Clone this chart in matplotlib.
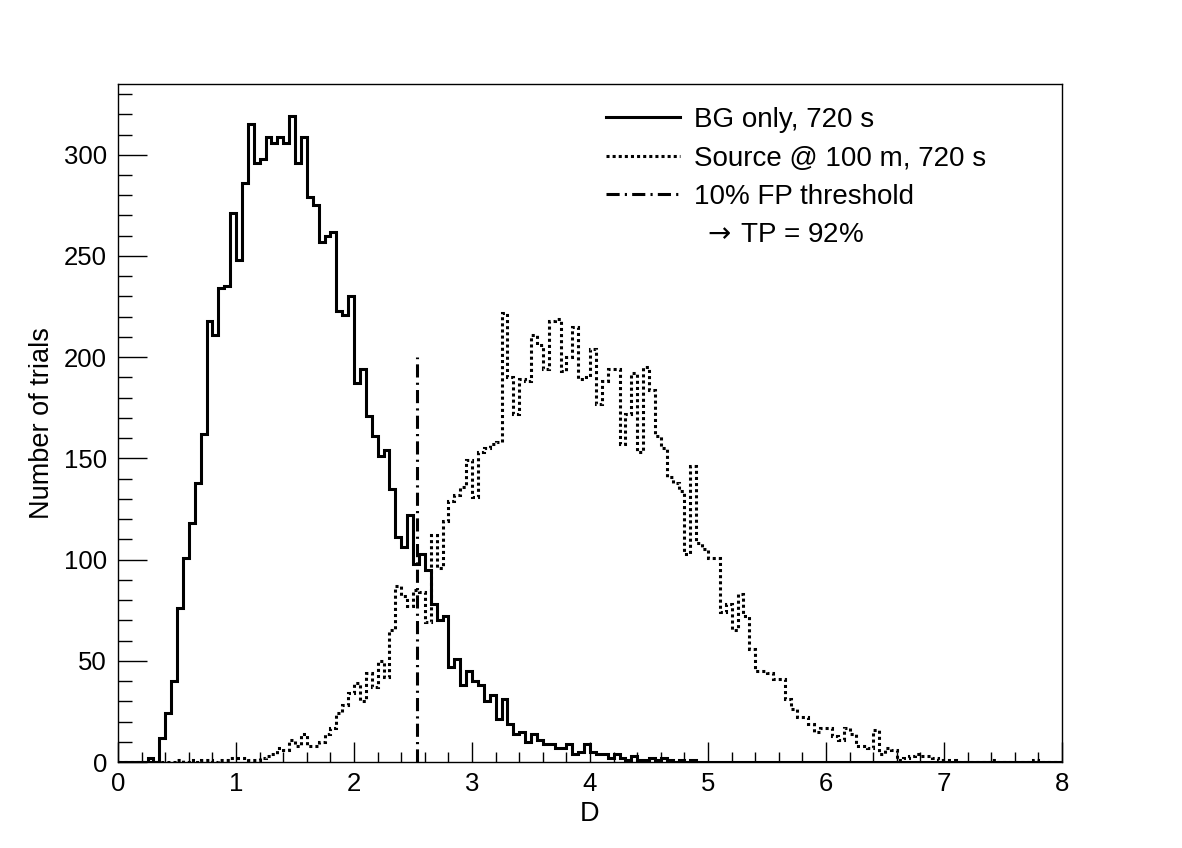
import numpy as np
import matplotlib.pyplot as plt
from matplotlib.lines import Line2D
from matplotlib.ticker import MultipleLocator

plt.rcParams['font.family'] = ['Liberation Sans', 'DejaVu Sans']

# histogram binning: 160 bins of width 0.05 over D in [0, 8]
d_min, d_max, n_bins = 0.0, 8.0, 160

# background only, 720 s
bg_counts = [
    0, 0, 0, 0, 0, 2, 0, 12, 24, 40,
    76, 101, 118, 138, 162, 218, 211, 234, 235, 271,
    248, 286, 315, 296, 298, 309, 306, 309, 306, 319,
    296, 309, 279, 275, 257, 260, 262, 223, 221, 230,
    187, 194, 171, 161, 151, 154, 135, 111, 106, 122,
    98, 103, 95, 78, 70, 72, 47, 51, 38, 45,
    40, 38, 30, 33, 21, 31, 19, 14, 15, 10,
    14, 11, 9, 9, 7, 7, 9, 4, 5, 9,
    5, 4, 4, 2, 4, 2, 1, 3, 1, 1,
    2, 1, 2, 1, 0, 1, 0, 1, 0, 0,
    0, 0, 0, 0, 0, 0, 0, 0, 0, 0,
    0, 0, 0, 0, 0, 0, 0, 0, 0, 0,
    0, 0, 0, 0, 0, 0, 0, 0, 0, 0,
    0, 0, 0, 0, 0, 0, 0, 0, 0, 0,
    0, 0, 0, 0, 0, 0, 0, 0, 0, 0,
    0, 0, 0, 0, 0, 0, 0, 0, 0, 0,
]

# source at 100 m, 720 s
src_counts = [
    0, 0, 0, 0, 0, 0, 0, 0, 0, 0,
    1, 0, 1, 0, 1, 1, 0, 1, 1, 2,
    2, 2, 1, 1, 2, 3, 4, 7, 6, 11,
    8, 14, 8, 8, 10, 14, 17, 24, 28, 34,
    39, 30, 44, 37, 50, 42, 65, 87, 82, 77,
    85, 84, 69, 112, 96, 119, 129, 132, 136, 149,
    131, 153, 155, 157, 158, 222, 190, 172, 189, 188,
    211, 206, 194, 218, 219, 193, 200, 215, 189, 190,
    204, 177, 188, 194, 194, 157, 172, 192, 153, 195,
    184, 161, 155, 141, 138, 134, 103, 146, 108, 105,
    101, 101, 74, 78, 65, 83, 72, 56, 45, 45,
    44, 41, 41, 31, 26, 22, 22, 19, 15, 17,
    17, 13, 11, 17, 14, 8, 8, 7, 16, 4,
    7, 6, 1, 2, 3, 4, 3, 3, 2, 1,
    1, 1, 0, 0, 0, 0, 0, 0, 1, 0,
    0, 0, 0, 0, 0, 1, 0, 0, 0, 0,
]

threshold = 2.535
threshold_height = 200

labels = ["BG only, 720 s", "Source @ 100 m, 720 s", "10% FP threshold",
          " $\\rightarrow\\,$TP = 92%"]

dotted = (0, (1, 1))
dashdot = (0, (4.3, 1.7, 0.7, 1.7))
lw = 2.2

fig = plt.figure(figsize=(11.82, 8.48), dpi=100)
ax = fig.add_axes([118 / 1182, 1 - 762 / 848, 944 / 1182, 678 / 848])

edges = np.linspace(d_min, d_max, n_bins + 1)
ax.stairs(bg_counts, edges, color='black', lw=lw, baseline=0)
ax.stairs(src_counts, edges, color='black', lw=lw, ls=dotted, baseline=0)
ax.vlines(threshold, 0, threshold_height, colors='black', lw=lw, linestyles=dashdot)

ax.set_xlim(d_min, d_max)
ax.set_ylim(0, 1.05 * max(bg_counts))

ax.xaxis.set_major_locator(MultipleLocator(1))
ax.xaxis.set_minor_locator(MultipleLocator(0.2))
ax.yaxis.set_major_locator(MultipleLocator(50))
ax.yaxis.set_minor_locator(MultipleLocator(10))

ax.tick_params(axis='both', which='both', direction='in', top=False, right=False,
               width=1.0, labelsize=18.5)
ax.tick_params(axis='x', which='major', length=14.4, pad=7)
ax.tick_params(axis='x', which='minor', length=7)
ax.tick_params(axis='y', which='major', length=20.7, pad=8)
ax.tick_params(axis='y', which='minor', length=10.3)
for s in ax.spines.values():
    s.set_linewidth(1.0)

ax.set_xlabel("D", fontsize=19.5, labelpad=4)
ax.set_ylabel("Number of trials", fontsize=19.5, labelpad=6)

handles = [
    Line2D([], [], color='black', lw=lw),
    Line2D([], [], color='black', lw=lw, ls=dotted),
    Line2D([], [], color='black', lw=lw, ls=dashdot),
    Line2D([], [], color='none'),
]
fig.legend(handles, labels, loc='upper left', bbox_to_anchor=(606 / 1182, 1 - 107 / 848),
           frameon=False, fontsize=20, handlelength=2.66, handletextpad=0.5,
           labelspacing=0.45, borderpad=0, borderaxespad=0)

fig.savefig("out.png", dpi=100)
